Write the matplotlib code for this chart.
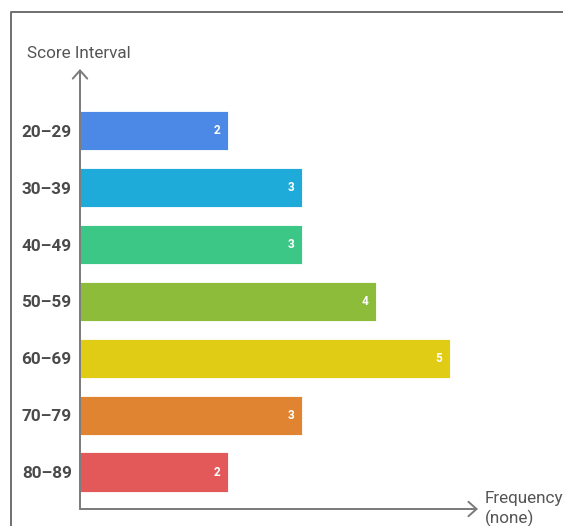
import numpy as np
import matplotlib.pyplot as plt
from matplotlib.lines import Line2D

plt.rcParams['font.family'] = ['Roboto', 'DejaVu Sans']

intervals = ['20–29', '30–39', '40–49', '50–59', '60–69', '70–79', '80–89']
frequency = [2, 3, 3, 4, 5, 3, 2]
colors = ['#4C88E6', '#1FABD9', '#3DC786', '#8DBC3B', '#E0CC15', '#E08431', '#E35858']

W, H = 563, 526
fig = plt.figure(figsize=(W / 100, H / 100), dpi=100)

# outer frame (only top and left visible)
fx = 11 / W
fy = 1 - 12 / H
fig.add_artist(Line2D([fx, fx, 1.0], [0.0, fy, fy], transform=fig.transFigure,
                      color='#6f6f6f', lw=1.4))

left, right = 80 / W, 478 / W
bottom, top = (H - 509) / H, (H - 69) / H
ax = fig.add_axes([left, bottom, right - left, top - bottom])

unit = 74  # px per frequency unit
ax.set_xlim(0, (478 - 80) / unit)
step = 57
ax.set_ylim(len(intervals) - 1 + 37 / step, -62 / step)

y = np.arange(len(intervals))
ax.barh(y, frequency, height=0.69, color=colors, edgecolor='white', linewidth=0.6)

for yi, v in zip(y, frequency):
    ax.text(v - 0.1, yi, str(v), ha='right', va='center', color='white',
            fontsize=8.5, fontweight='bold')

ax.set_yticks(y)
ax.set_yticklabels(intervals, fontsize=12.3, fontweight='bold', color='#4a4a4a')
ax.tick_params(axis='y', length=0, pad=6)
ax.set_xticks([])
for s in ax.spines.values():
    s.set_visible(False)

# axes with arrow heads
arrow = dict(arrowstyle='->,head_length=0.45,head_width=0.4', color='#7a7a7a',
             lw=1.4, mutation_scale=13, shrinkA=0, shrinkB=0)
ax.annotate('', xy=(1.0, 0), xytext=(0, 0), xycoords='axes fraction', arrowprops=arrow)
ax.annotate('', xy=(0, 1.0), xytext=(0, 0), xycoords='axes fraction', arrowprops=arrow)

fig.text(79 / W, 1 - 53 / H, 'Score Interval', ha='center', va='center',
         fontsize=12.3, color='#555555')
fig.text(485 / W, 1 - 498 / H, 'Frequency', ha='left', va='center',
         fontsize=12.3, color='#555555')
fig.text(485 / W, 1 - 518 / H, '(none)', ha='left', va='center',
         fontsize=12.3, color='#555555')

fig.savefig('out.png', dpi=100)
